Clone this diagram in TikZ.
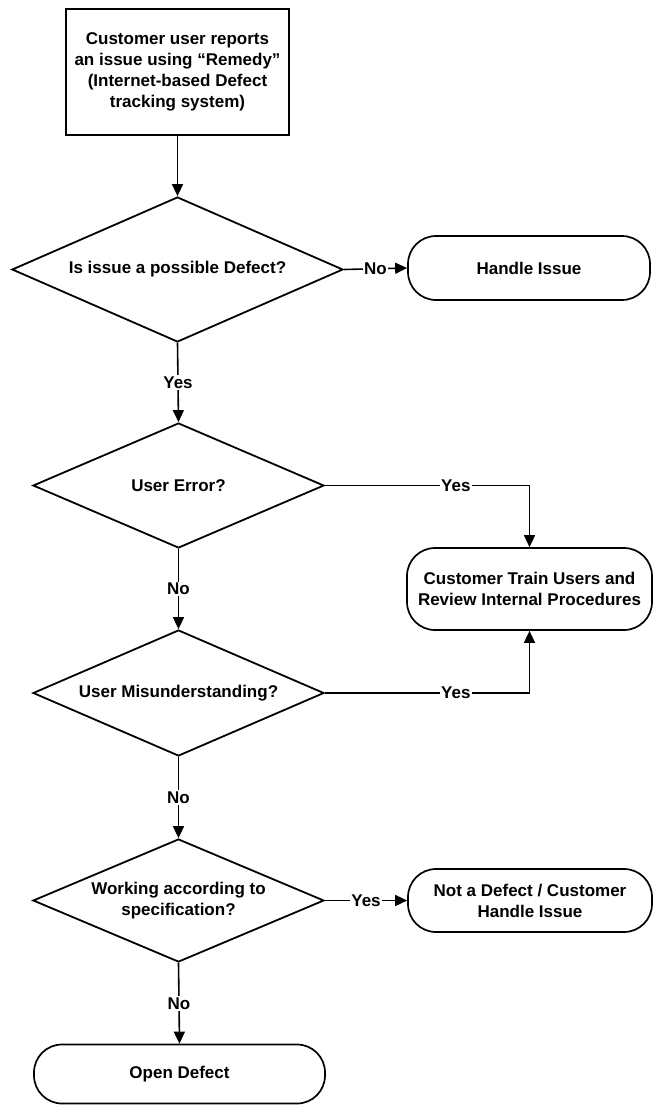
\documentclass[tikz,border=0pt]{standalone}
\usepackage{fontspec}
\setmainfont{Liberation Sans}
\usetikzlibrary{shapes.geometric,arrows.meta}
\begin{document}
\begin{tikzpicture}[x=1pt,y=-1pt,
  every node/.style={font=\bfseries\fontsize{17}{21}\selectfont, align=center},
  procbox/.style={draw, line width=1.7pt, inner sep=0pt},
  decision/.style={draw, diamond, line width=1.8pt, inner sep=0pt},
  terminal/.style={draw, rounded corners=28pt, line width=1.7pt, inner sep=0pt},
  flow/.style={line width=1.6pt, -{Triangle[length=12pt,width=11pt]}},
  lbl/.style={fill=white, inner sep=1.5pt}
]
\useasboundingbox (0,0) rectangle (653,1105);

% process steps and decisions
\node[procbox, minimum width=223pt, minimum height=126pt] (report) at (177.5,72)
  {Customer user reports\\an issue using “Remedy”\\(Internet-based Defect\\tracking system)};
\node[decision, aspect=2.28, minimum width=331pt, minimum height=145pt] (defect) at (177.5,269.5)
  {Is issue a possible Defect?};
\node[terminal, minimum width=242pt, minimum height=64pt] (handle) at (529,268)
  {Handle Issue};
\node[decision, aspect=2.33, minimum width=291pt, minimum height=125pt] (usererr) at (178.5,485.5)
  {User Error?};
\node[terminal, minimum width=245pt, minimum height=82pt] (train) at (529.5,589)
  {Customer Train Users and\\Review Internal Procedures};
\node[decision, aspect=2.31, minimum width=291pt, minimum height=126pt] (misund) at (178.5,693)
  {User Misunderstanding?};
\node[decision, aspect=2.37, minimum width=291pt, minimum height=123pt] (spec) at (178.5,900.5)
  {Working according to\\specification?};
\node[terminal, minimum width=244pt, minimum height=63pt] (notdef) at (530,900.5)
  {Not a Defect / Customer\\Handle Issue};
\node[terminal, minimum width=291pt, minimum height=59pt] (open) at (179.5,1074)
  {Open Defect};

% corner points of the two "Yes" branches
\coordinate (errturn) at (train.north |- usererr.east);
\coordinate (misturn) at (train.south |- misund.east);

% connectors
\draw[flow] (report) -- (defect.north);
\draw[flow] (defect.east) -- node[lbl]{No} (handle.west);
\draw[flow] (defect.south) -- node[lbl]{Yes} (usererr.north);
\draw[flow] (usererr.east) -- node[lbl, pos=0.64]{Yes} (errturn) -- (train.north);
\draw[flow] (usererr.south) -- node[lbl]{No} (misund.north);
\draw[flow] (misund.east) -- node[lbl, pos=0.64]{Yes} (misturn) -- (train.south);
\draw[flow] (misund.south) -- node[lbl]{No} (spec.north);
\draw[flow] (spec.east) -- node[lbl]{Yes} (notdef.west);
\draw[flow] (spec.south) -- node[lbl]{No} (open.north);
\end{tikzpicture}
\end{document}
